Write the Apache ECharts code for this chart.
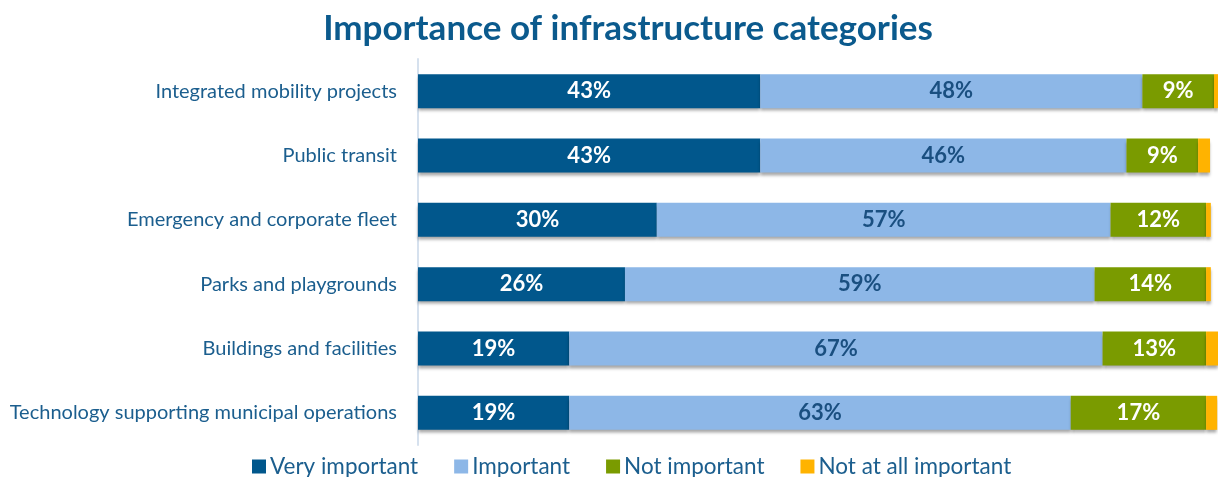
<!DOCTYPE html>
<html>
<head>
<meta charset="utf-8">
<script src="https://cdn.jsdelivr.net/npm/echarts@6/dist/echarts.min.js"></script>
<style>
  html, body { margin: 0; padding: 0; background: #fff; }
  #chart { width: 1218px; height: 477px; }
</style>
</head>
<body>
<div id="chart"></div>
<script>
// Survey categories, listed top to bottom
const categories = [
  'Integrated mobility projects',
  'Public transit',
  'Emergency and corporate fleet',
  'Parks and playgrounds',
  'Buildings and facilities',
  'Technology supporting municipal operations'
];

// Share of respondents (%) per rating
const veryImportant   = [43, 43, 30, 26, 19, 19];
const important       = [48, 46, 57, 59, 67, 63];
const notImportant    = [9, 9, 12, 14, 13, 17];
const notAtAll        = [0.5, 1.5, 0.6, 0.6, 1.5, 1.4];

const seriesNames = ['Very important', 'Important', 'Not important', 'Not at all important'];

const FONT = 'Lato, "Open Sans", sans-serif';
const TEXT_BLUE = '#1B5E8E';

const barShadow = {
  shadowColor: 'rgba(0,0,0,0.35)',
  shadowBlur: 3,
  shadowOffsetY: 3
};

function makeSeries(name, data, color, labelColor) {
  return {
    name: name,
    type: 'bar',
    stack: 'total',
    data: data,
    barWidth: 34,
    itemStyle: Object.assign({ color: color }, barShadow),
    label: labelColor ? {
      show: true,
      position: 'inside',
      formatter: '{c}%',
      color: labelColor,
      fontFamily: FONT,
      fontWeight: 'bold',
      fontSize: 22
    } : { show: false },
    emphasis: { disabled: true }
  };
}

const chart = echarts.init(document.getElementById('chart'), null, { renderer: 'canvas' });

chart.setOption({
  animation: false,
  backgroundColor: '#ffffff',
  title: {
    text: 'Importance of infrastructure categories',
    left: 623,
    textAlign: 'center',
    top: 6,
    textStyle: {
      fontFamily: FONT,
      fontWeight: 'bold',
      fontSize: 35,
      color: '#0B5A8D'
    }
  },
  legend: {
    data: seriesNames,
    top: 450,
    left: 247,
    icon: 'rect',
    itemWidth: 14,
    itemHeight: 14,
    itemGap: 36,
    textStyle: {
      fontFamily: FONT,
      fontSize: 22.5,
      color: TEXT_BLUE,
      padding: [0, 0, 0, -1]
    }
  },
  grid: {
    left: 418,
    right: 0,
    top: 59,
    bottom: 32,
    containLabel: false
  },
  xAxis: {
    type: 'value',
    min: 0,
    max: 100.5,
    show: false
  },
  yAxis: {
    type: 'category',
    data: categories,
    inverse: true,
    axisLine: { show: true, lineStyle: { color: '#D6E1EE', width: 2 } },
    axisTick: { show: false },
    axisLabel: {
      fontFamily: FONT,
      fontSize: 20,
      color: TEXT_BLUE,
      margin: 21
    }
  },
  series: [
    makeSeries(seriesNames[0], veryImportant, '#01578C', '#ffffff'),
    makeSeries(seriesNames[1], important, '#8DB7E7', '#1A4F80'),
    makeSeries(seriesNames[2], notImportant, '#7A9B00', '#ffffff'),
    makeSeries(seriesNames[3], notAtAll, '#FFB300', null)
  ]
});
</script>
</body>
</html>
